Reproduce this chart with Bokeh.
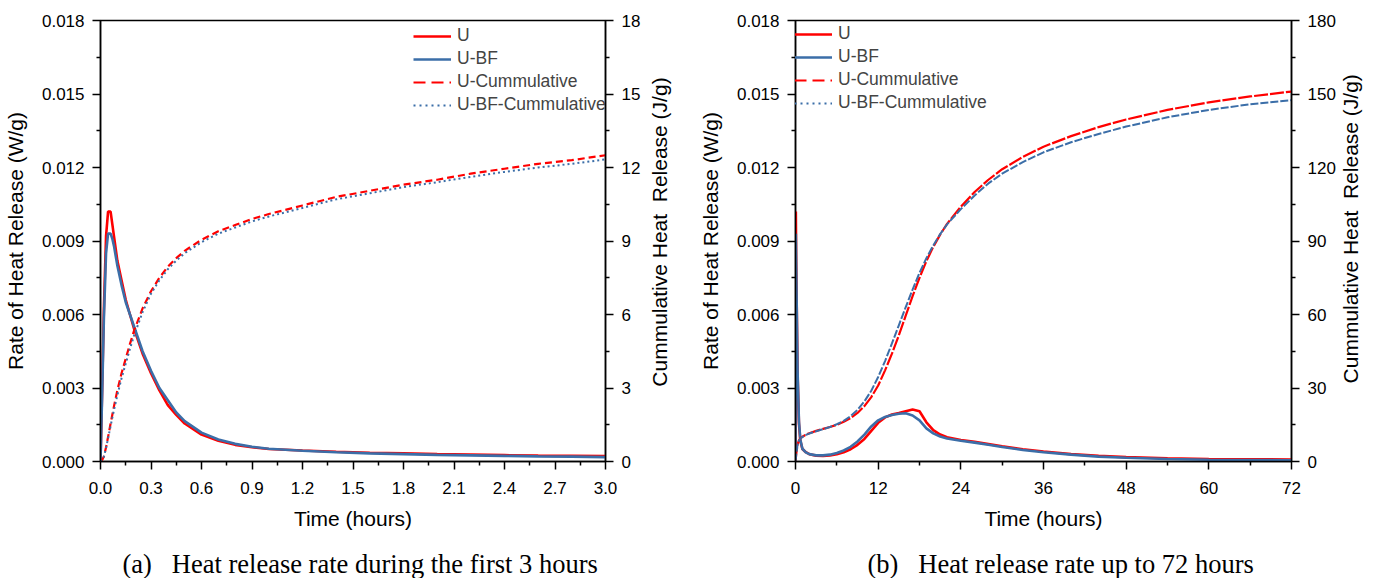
import math
from bokeh.plotting import figure
from bokeh.models import (Range1d, LinearAxis, FixedTicker, PrintfTickFormatter,
                          Legend, LegendItem, Label)
from bokeh.layouts import row, column
from bokeh.embed import file_html
from bokeh.resources import INLINE

# ---- first 3 hours (panel a) ----
t_early = [0, 0.01, 0.02, 0.033, 0.045, 0.06, 0.07, 0.08, 0.1, 0.125, 0.15, 0.175, 0.2,
           0.25, 0.3, 0.35, 0.4, 0.45, 0.5, 0.6, 0.7, 0.8, 0.9, 1.0, 1.2, 1.4, 1.6, 1.8,
           2.0, 2.2, 2.4, 2.6, 2.8, 3.0]
rate_u_early = [0, 0.0030, 0.0062, 0.0092, 0.0102, 0.0102, 0.0097, 0.0092, 0.0082, 0.0074,
                0.0066, 0.0060, 0.0054, 0.0044, 0.0036, 0.0029, 0.0023, 0.0019, 0.00155,
                0.0011, 0.00085, 0.00068, 0.00058, 0.00051, 0.00045, 0.00040, 0.00036,
                0.00033, 0.00030, 0.00028, 0.00026, 0.00024, 0.00023, 0.00022]
rate_bf_early = [0, 0.0028, 0.0058, 0.0085, 0.0093, 0.0093, 0.0091, 0.0088, 0.0080, 0.0072,
                 0.0065, 0.0060, 0.0055, 0.0045, 0.0037, 0.0030, 0.0025, 0.0020, 0.00165,
                 0.00118, 0.00090, 0.00072, 0.00060, 0.00052, 0.00044, 0.00038, 0.00033,
                 0.00030, 0.00027, 0.00025, 0.00023, 0.00021, 0.00020, 0.00018]
cum_u_early = [0, 0.06, 0.2, 0.58, 1.0, 1.55, 1.9, 2.25, 2.9, 3.6, 4.2, 4.8, 5.35, 6.25, 6.95,
               7.5, 7.95, 8.3, 8.6, 9.05, 9.4, 9.65, 9.9, 10.1, 10.45, 10.8, 11.05, 11.3,
               11.5, 11.75, 11.95, 12.15, 12.3, 12.5]
cum_bf_early = [0, 0.05, 0.19, 0.55, 0.95, 1.45, 1.78, 2.1, 2.7, 3.4, 4.0, 4.6, 5.15, 6.1,
                6.85, 7.4, 7.85, 8.2, 8.5, 8.95, 9.3, 9.55, 9.8, 10.0, 10.35, 10.7, 10.95,
                11.2, 11.4, 11.62, 11.82, 12.0, 12.15, 12.33]

# ---- up to 72 hours (panel b) ----
t_full = [0, 0.05, 0.1, 0.3, 0.5, 0.7, 1.0, 1.5, 2, 3, 4, 5, 6, 7, 8, 9, 10, 11, 12, 13, 14,
          15, 16, 17, 18, 19, 20, 21, 22, 24, 26, 28, 30, 33, 36, 40, 44, 48, 54, 60, 66, 72]
rate_u_full = [0, 0.0102, 0.0082, 0.0036, 0.00155, 0.00085, 0.00051, 0.00038, 0.00030,
               0.00024, 0.00023, 0.00025, 0.00030, 0.00038, 0.00050, 0.00068, 0.00092,
               0.00125, 0.00158, 0.00180, 0.00192, 0.00198, 0.00205, 0.00212, 0.00205,
               0.00160, 0.00128, 0.00110, 0.00099, 0.00088, 0.00080, 0.00071, 0.00062,
               0.00050, 0.00041, 0.00030, 0.00023, 0.00018, 0.00013, 0.00010, 0.00009,
               0.00008]
rate_bf_full = [0, 0.0093, 0.0080, 0.0037, 0.00165, 0.00090, 0.00052, 0.00037, 0.00030,
                0.00025, 0.00025, 0.00028, 0.00035, 0.00045, 0.00060, 0.00082, 0.00110,
                0.00143, 0.00168, 0.00182, 0.00190, 0.00195, 0.00197, 0.00188, 0.00168,
                0.00135, 0.00115, 0.00102, 0.00094, 0.00085, 0.00077, 0.00068, 0.00059,
                0.00047, 0.00038, 0.00028, 0.00020, 0.00015, 0.00010, 0.00007, 0.00006,
                0.00005]
cum_u_full = [0, 1.3, 2.9, 6.95, 8.6, 9.4, 10.1, 10.95, 11.5, 12.5, 13.3, 14.1, 15.0, 16.2,
              17.7, 19.8, 22.6, 26.3, 31.0, 37.2, 44.0, 51.5, 59.5, 67.5, 75.0, 81.8, 87.6,
              92.6, 97.0, 104.0, 110.0, 115.0, 119.3, 124.3, 128.5, 132.8, 136.5, 139.6,
              143.5, 146.6, 149.0, 151.0]
cum_bf_full = [0, 1.2, 2.7, 6.85, 8.5, 9.3, 10.0, 10.85, 11.4, 12.35, 13.2, 14.1, 15.2, 16.6,
               18.5, 21.1, 24.5, 28.9, 34.5, 41.0, 48.2, 55.6, 63.0, 70.2, 77.0, 83.0, 88.2,
               92.8, 96.8, 103.0, 108.6, 113.5, 117.5, 122.2, 126.2, 130.3, 133.7, 136.7,
               140.5, 143.5, 145.8, 147.5]

# ---- ticks ----
rate_ticks = [0.0, 0.003, 0.006, 0.009, 0.012, 0.015, 0.018]
rate_minor = [0.0015, 0.0045, 0.0075, 0.0105, 0.0135, 0.0165]
early_ticks = [0.0, 0.3, 0.6, 0.9, 1.2, 1.5, 1.8, 2.1, 2.4, 2.7, 3.0]
early_minor = [0.15, 0.45, 0.75, 1.05, 1.35, 1.65, 1.95, 2.25, 2.55, 2.85]
full_ticks = [0, 12, 24, 36, 48, 60, 72]
full_minor = [6, 18, 30, 42, 54, 66]
cum_early_ticks = [0, 3, 6, 9, 12, 15, 18]
cum_early_minor = [1.5, 4.5, 7.5, 10.5, 13.5, 16.5]
cum_full_ticks = [0, 30, 60, 90, 120, 150, 180]
cum_full_minor = [15, 45, 75, 105, 135, 165]

LEGEND_LABELS = ["U", "U-BF", "U-Cummulative", "U-BF-Cummulative"]
CUM_TITLE = "Cummulative Heat\u00a0 Release (J/g)"
CAPTION_A = "(a)\u00a0\u00a0\u00a0Heat release rate during the first 3 hours"
CAPTION_B = "(b)\u00a0\u00a0\u00a0Heat release rate up to 72 hours"

RED = "#ff0000"
BLUE = "#3b6ea8"
SANS = "Liberation Sans"
SERIF = "Liberation Serif"
NAN = float("nan")
PLOT_H = 548
CAPTION_H = 578 - PLOT_H


def style_axis(ax, ticks, minor, fmt=None, label_standoff=8):
    ax.ticker = FixedTicker(ticks=ticks, minor_ticks=minor)
    if fmt is not None:
        ax.formatter = PrintfTickFormatter(format=fmt)
    ax.axis_line_width = 1.5
    ax.axis_line_color = "black"
    ax.major_tick_line_width = 1.5
    ax.minor_tick_line_width = 1.5
    ax.major_tick_in = 0
    ax.major_tick_out = 8
    ax.minor_tick_in = 0
    ax.minor_tick_out = 4
    ax.major_label_text_font = SANS
    ax.major_label_text_font_size = "17px"
    ax.major_label_text_color = "black"
    ax.major_label_standoff = label_standoff
    ax.axis_label_text_font = SANS
    ax.axis_label_text_font_size = "21px"
    ax.axis_label_text_font_style = "normal"
    ax.axis_label_text_color = "black"
    ax.axis_label_standoff = 12


def blank(width, height):
    # empty canvas whose frame fills it: data (0..1, 0..1) maps onto the whole area
    f = figure(width=width, height=height, output_backend="svg", toolbar_location=None,
               x_axis_type=None, y_axis_type=None, min_border=0,
               x_range=Range1d(0, 1), y_range=Range1d(0, 1))
    f.outline_line_color = None
    f.xgrid.visible = False
    f.ygrid.visible = False
    f.background_fill_color = "white"
    f.border_fill_color = "white"
    return f


def side_title(width, x_px, anchor_px):
    # rotated title for the right-hand (cumulative) axis, read bottom to top
    f = blank(width, PLOT_H)
    f.add_layout(Label(x=x_px / width, y=1 - anchor_px / PLOT_H,
                       text=CUM_TITLE, angle=math.pi / 2, text_align="left",
                       text_baseline="middle", text_font=SANS, text_font_size="21px",
                       text_color="black"))
    return f


def panel(t, ru, rbf, cu, cbf, x_end, x_ticks, x_minor, x_fmt, cum_end, c_ticks, c_minor,
          width, borders, legend_loc, red_dash, blue_dash):
    left, right, top, bottom = borders
    p = figure(width=width, height=PLOT_H, output_backend="svg", toolbar_location=None,
               x_range=Range1d(0, x_end), y_range=Range1d(0, 0.018),
               min_border_left=left, min_border_right=right,
               min_border_top=top, min_border_bottom=bottom)
    p.extra_y_ranges = {"cum": Range1d(0, cum_end)}
    p.xgrid.visible = False
    p.ygrid.visible = False
    p.outline_line_color = "black"
    p.outline_line_width = 1.5
    p.background_fill_color = "white"
    p.border_fill_color = "white"

    style_axis(p.xaxis[0], x_ticks, x_minor, x_fmt, label_standoff=12)
    p.xaxis[0].axis_label = "Time (hours)"
    p.xaxis[0].axis_label_standoff = 10
    style_axis(p.yaxis[0], rate_ticks, rate_minor, "%.3f")
    p.yaxis[0].axis_label = "Rate of Heat Release (W/g)"

    rax = LinearAxis(y_range_name="cum")
    style_axis(rax, c_ticks, c_minor)
    p.add_layout(rax, "right")

    r_u = p.line(t, ru, line_color=RED, line_width=2.6)
    r_bf = p.line(t, rbf, line_color=BLUE, line_width=2.6)
    p.line(t, cu, line_color=RED, line_width=2.2, line_dash=red_dash, y_range_name="cum")
    p.line(t, cbf, line_color=BLUE, line_width=2.0, line_dash=blue_dash, y_range_name="cum")

    # legend keys for the cumulative series
    k_cu = p.line([NAN], [NAN], line_color=RED, line_width=2.2, line_dash="12 6")
    k_cbf = p.line([NAN], [NAN], line_color=BLUE, line_width=2.0, line_dash="2 4")

    legend = Legend(items=[LegendItem(label=LEGEND_LABELS[0], renderers=[r_u]),
                           LegendItem(label=LEGEND_LABELS[1], renderers=[r_bf]),
                           LegendItem(label=LEGEND_LABELS[2], renderers=[k_cu]),
                           LegendItem(label=LEGEND_LABELS[3], renderers=[k_cbf])],
                    location=legend_loc, margin=0, padding=3, spacing=2,
                    glyph_width=38, glyph_height=20, label_height=20, label_standoff=6,
                    label_text_font=SANS, label_text_font_size="17.5px",
                    border_line_color=None, background_fill_alpha=0.0)
    p.add_layout(legend)
    return p


pa = panel(t_early, rate_u_early, rate_bf_early, cum_u_early, cum_bf_early,
           3.0, early_ticks, early_minor, "%.1f", 18, cum_early_ticks, cum_early_minor,
           643, (96, 36, 20, PLOT_H - 464), (313, 346), "7 4", "2 3")
la = side_title(47, 16, 455)
pb = panel(t_full, rate_u_full, rate_bf_full, cum_u_full, cum_bf_full,
           72, full_ticks, full_minor, None, 180, cum_full_ticks, cum_full_minor,
           648, (105, 45, 18, PLOT_H - 461), (-1, 348), "14 2", "8 2")
lb = side_title(37, 12, 451)

captions = blank(1375, CAPTION_H)
for text, x in ((CAPTION_A, 122), (CAPTION_B, 867)):
    captions.add_layout(Label(x=x / 1375, y=0.5, text=text, text_align="left",
                              text_baseline="middle", text_font=SERIF,
                              text_font_size="26.5px", text_color="black"))

layout = column(row(pa, la, pb, lb, spacing=0), captions, spacing=0)
open("out.html", "w").write(file_html(layout, INLINE))
